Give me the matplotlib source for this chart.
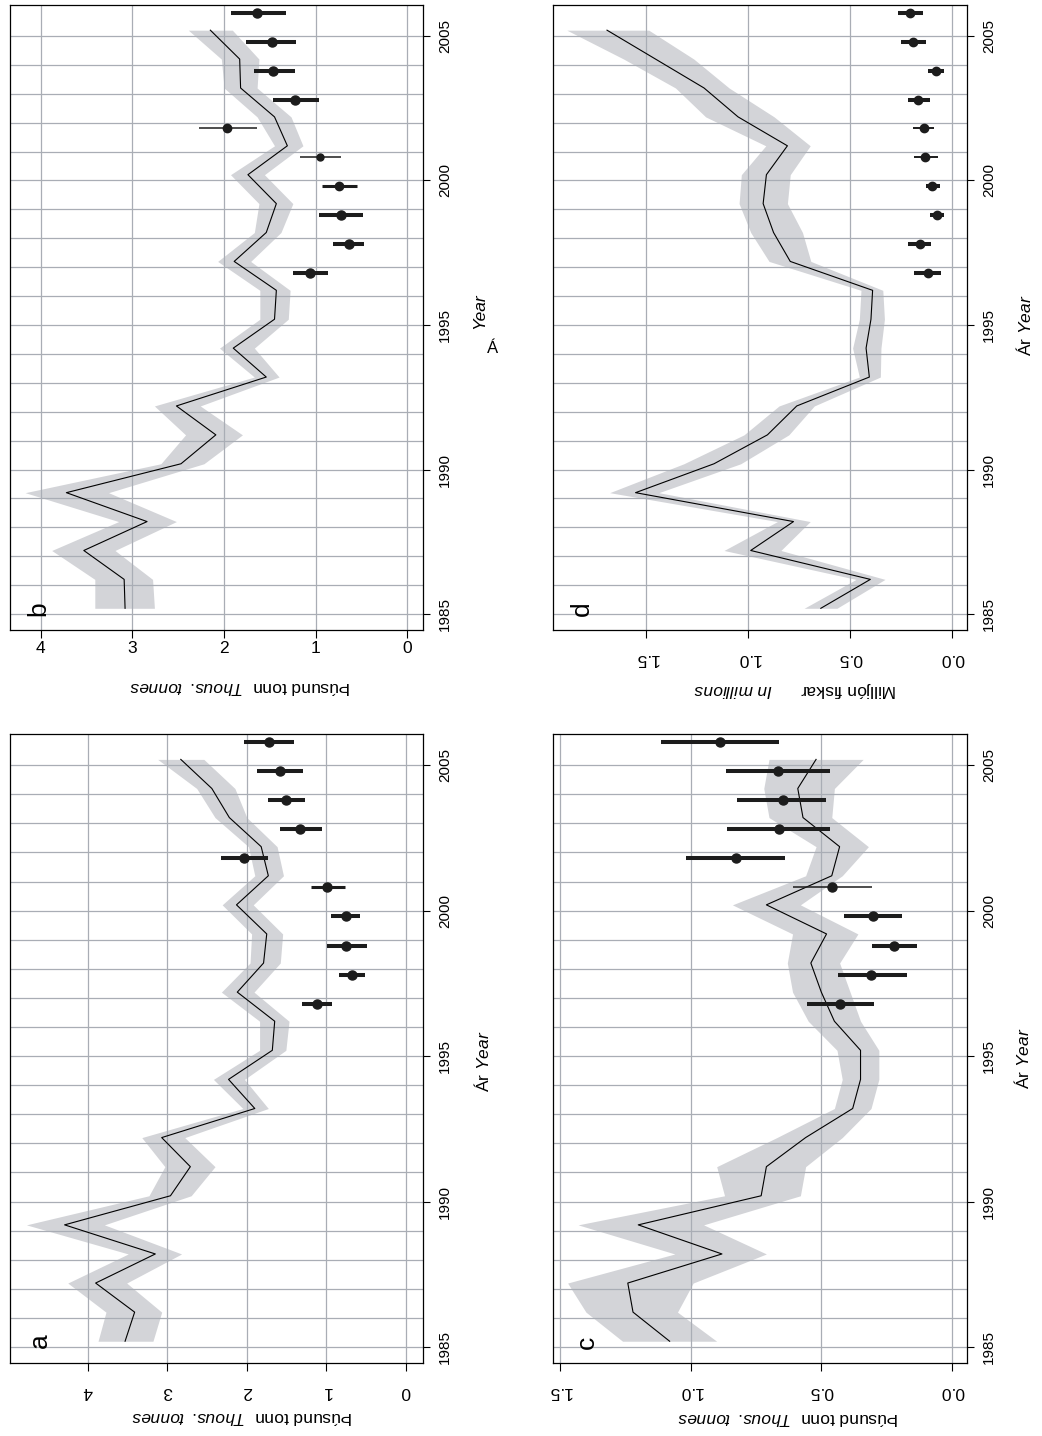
import numpy as np
import matplotlib
matplotlib.use("Agg")
import matplotlib.pyplot as plt

plt.rcParams['font.family'] = ['Liberation Sans', 'DejaVu Sans']
plt.rcParams['mathtext.fontset'] = 'custom'
plt.rcParams['mathtext.rm'] = 'Liberation Sans'
plt.rcParams['mathtext.it'] = 'Liberation Sans:italic'

years = np.arange(1985, 2006)
survey_years = np.arange(1997, 2007)

# a - model fit with band, survey index with error bars
a_fit = [3.53, 3.41, 3.90, 3.15, 4.29, 2.96, 2.71, 3.07, 1.90, 2.23, 1.68,
         1.65, 2.12, 1.79, 1.75, 2.13, 1.73, 1.82, 2.22, 2.44, 2.83]
a_hi = [3.87, 3.77, 4.25, 3.49, 4.77, 3.23, 3.03, 3.32, 2.05, 2.42, 1.84,
        1.84, 2.32, 1.96, 1.94, 2.31, 1.90, 1.98, 2.40, 2.63, 3.12]
a_lo = [3.18, 3.07, 3.51, 2.82, 3.79, 2.70, 2.40, 2.78, 1.73, 2.03, 1.51,
        1.47, 1.91, 1.58, 1.55, 1.92, 1.54, 1.62, 2.00, 2.15, 2.54]
a_obs = [1.12, 0.68, 0.75, 0.76, 0.99, 2.03, 1.33, 1.51, 1.58, 1.72]
a_obs_lo = [0.93, 0.52, 0.49, 0.58, 0.77, 1.73, 1.06, 1.27, 1.30, 1.41]
a_obs_hi = [1.31, 0.84, 0.99, 0.94, 1.20, 2.33, 1.58, 1.74, 1.87, 2.03]

# b
b_fit = [3.08, 3.09, 3.53, 2.84, 3.72, 2.47, 2.09, 2.52, 1.54, 1.90, 1.45,
         1.43, 1.89, 1.54, 1.43, 1.74, 1.31, 1.45, 1.82, 1.83, 2.15]
b_hi = [3.41, 3.41, 3.88, 3.15, 4.17, 2.69, 2.42, 2.76, 1.67, 2.05, 1.61,
        1.61, 2.07, 1.67, 1.62, 1.93, 1.45, 1.64, 2.00, 2.03, 2.39]
b_lo = [2.76, 2.78, 3.19, 2.52, 3.26, 2.22, 1.80, 2.26, 1.40, 1.67, 1.30,
        1.28, 1.71, 1.38, 1.25, 1.56, 1.14, 1.27, 1.64, 1.62, 1.91]
b_obs = [1.06, 0.64, 0.73, 0.745, 0.95, 1.97, 1.23, 1.47, 1.48, 1.64]
b_obs_lo = [0.87, 0.47, 0.49, 0.55, 0.72, 1.64, 0.97, 1.23, 1.22, 1.32]
b_obs_hi = [1.25, 0.81, 0.97, 0.93, 1.17, 2.27, 1.47, 1.67, 1.76, 1.93]

# c
c_fit = [1.08, 1.22, 1.24, 0.88, 1.20, 0.73, 0.71, 0.56, 0.38, 0.35, 0.35,
         0.45, 0.50, 0.54, 0.48, 0.71, 0.46, 0.43, 0.57, 0.59, 0.52]
c_hi = [1.26, 1.40, 1.47, 1.06, 1.43, 0.87, 0.90, 0.67, 0.45, 0.42, 0.44,
        0.55, 0.61, 0.63, 0.61, 0.84, 0.56, 0.52, 0.70, 0.72, 0.70]
c_lo = [0.90, 1.05, 0.99, 0.71, 0.95, 0.58, 0.56, 0.42, 0.31, 0.28, 0.28,
        0.35, 0.39, 0.43, 0.36, 0.58, 0.42, 0.32, 0.46, 0.45, 0.34]
c_obs = [0.427, 0.309, 0.221, 0.304, 0.458, 0.827, 0.663, 0.646, 0.665, 0.887]
c_obs_lo = [0.300, 0.173, 0.133, 0.191, 0.308, 0.637, 0.468, 0.481, 0.468, 0.663]
c_obs_hi = [0.555, 0.435, 0.308, 0.415, 0.608, 1.018, 0.862, 0.821, 0.864, 1.112]

# d
d_fit = [0.643, 0.400, 0.987, 0.777, 1.552, 1.167, 0.905, 0.761, 0.405, 0.421, 0.397,
         0.389, 0.793, 0.875, 0.926, 0.910, 0.807, 1.049, 1.216, 1.454, 1.692]
d_hi = [0.725, 0.470, 1.118, 0.856, 1.679, 1.315, 1.020, 0.848, 0.454, 0.487, 0.454,
        0.446, 0.897, 0.987, 1.044, 1.033, 0.913, 1.208, 1.356, 1.610, 1.889]
d_lo = [0.564, 0.328, 0.839, 0.695, 1.438, 1.036, 0.800, 0.675, 0.351, 0.348, 0.331,
        0.339, 0.692, 0.733, 0.807, 0.793, 0.695, 0.872, 1.093, 1.266, 1.487]
d_obs = [0.118, 0.156, 0.074, 0.098, 0.131, 0.139, 0.164, 0.079, 0.189, 0.205]
d_obs_lo = [0.052, 0.102, 0.038, 0.057, 0.069, 0.087, 0.107, 0.038, 0.126, 0.143]
d_obs_hi = [0.184, 0.216, 0.107, 0.126, 0.185, 0.189, 0.216, 0.115, 0.249, 0.262]

ticks_tonnes = [0, 1, 2, 3, 4]
ticks_tonnes_lab = ['0', '1', '2', '3', '4']
ticks_half = [0.0, 0.5, 1.0, 1.5]
ticks_half_lab = ['0.0', '0.5', '1.0', '1.5']
year_ticks = [1985, 1990, 1995, 2000, 2005]

lab_tonn = u'Þúsund tonn  $\\it{Thous.\\ tonnes}$'
lab_fisk = u'Milljón fiskar      $\\it{In\\ millions}$'
lab_year = u'Ár $\\it{Year}$'

BAND = '#d3d4d8'
GRID = '#a9adb5'
INK = '#1c1c1c'

fig = plt.figure(figsize=(10.42, 14.36), dpi=100)

# axes boxes (rotated page: value runs right-to-left, years run upward)
ax_b = fig.add_axes([0.0096, 0.5613, 0.3964, 0.4352])
ax_d = fig.add_axes([0.5307, 0.5613, 0.3973, 0.4352])
ax_a = fig.add_axes([0.0096, 0.0508, 0.3964, 0.4380])
ax_c = fig.add_axes([0.5307, 0.0508, 0.3973, 0.4380])


def panel(ax, fit, lo, hi, obs, obs_lo, obs_hi, bar_lw, dot_ms, xlim, xt, xtl,
          tick_rot, tick_pad, letter, letter_xy, vlabel, vlabel_xy, ylab_xy):
    t_fit = years + 0.2
    t_obs = survey_years - 0.2
    ax.fill_betweenx(t_fit, lo, hi, color=BAND, lw=0, zorder=1)
    ax.plot(fit, t_fit, color='black', lw=0.8, zorder=2)
    for t, v, l, h, w, m in zip(t_obs, obs, obs_lo, obs_hi, bar_lw, dot_ms):
        ax.plot([l, h], [t, t], color=INK, lw=w, solid_capstyle='butt', zorder=3)
        ax.plot(v, t, 'o', color=INK, ms=m, mec=INK, zorder=4)

    ax.set_xlim(*xlim)
    ax.set_ylim(1984.45, 2006.07)
    ax.set_xticks(xt)
    ax.set_xticklabels(xtl)
    ax.set_yticks(year_ticks)
    ax.set_yticks(years, minor=True)
    ax.yaxis.tick_right()
    ax.set_axisbelow('line')
    ax.grid(axis='x', color=GRID, lw=0.9)
    ax.grid(axis='y', which='both', color=GRID, lw=0.9)
    ax.tick_params(axis='x', direction='out', length=6, width=0.8,
                   labelsize=12.5, labelrotation=tick_rot, pad=tick_pad)
    ax.tick_params(axis='y', which='major', direction='out', length=5, width=0.8,
                   labelsize=11, labelrotation=90, pad=6)
    ax.tick_params(axis='y', which='minor', length=0)
    for lab in ax.get_yticklabels():
        lab.set_va('center')
    for s in ax.spines.values():
        s.set_linewidth(0.9)

    ax.text(letter_xy[0], letter_xy[1], letter, transform=ax.transAxes,
            rotation=90, fontsize=19, ha='center', va='center')
    ax.text(vlabel_xy[0], vlabel_xy[1], vlabel, transform=ax.transAxes,
            rotation=180, fontsize=12.5, ha='center', va='center')
    if ylab_xy is not None:
        ax.text(ylab_xy[0], ylab_xy[1], lab_year, transform=ax.transAxes,
                rotation=90, fontsize=12.5, ha='center', va='center')


thick, thin = 2.9, 1.1
panel(ax_a, a_fit, a_lo, a_hi, a_obs, a_obs_lo, a_obs_hi,
      [thick, thick, thick, thick, 2.2, thick, thick, thick, thick, thick],
      [6.5] * 10,
      (4.976, -0.214), ticks_tonnes, ticks_tonnes_lab, 180, 9,
      'a', (0.073, 0.035), lab_tonn, (0.562, -0.086), (1.143, 0.48))

panel(ax_b, b_fit, b_lo, b_hi, b_obs, b_obs_lo, b_obs_hi,
      [thick, thick, thick, 2.2, thin, thin, thick, thick, thick, thick],
      [6.5, 6.5, 6.5, 6.0, 5.0, 6.0, 6.5, 6.5, 6.5, 6.5],
      (4.335, -0.17), ticks_tonnes, ticks_tonnes_lab, 0, 2,
      'b', (0.068, 0.034), lab_tonn, (0.557, -0.091), None)
# the year caption of panel b is split in two pieces
ax_b.text(1.138, 0.51, 'Year', transform=ax_b.transAxes, rotation=90,
          fontsize=12.5, style='italic', ha='center', va='center')
ax_b.text(1.169, 0.45, u'Á', transform=ax_b.transAxes, rotation=0,
          fontsize=12, ha='center', va='center')

panel(ax_c, c_fit, c_lo, c_hi, c_obs, c_obs_lo, c_obs_hi,
      [thick, thick, thick, thick, thin, thick, thick, thick, thick, thick],
      [6.5] * 10,
      (1.526, -0.057), ticks_half, ticks_half_lab, 180, 9,
      'c', (0.082, 0.033), lab_tonn, (0.568, -0.087), (1.135, 0.485))

panel(ax_d, d_fit, d_lo, d_hi, d_obs, d_obs_lo, d_obs_hi,
      [thick, thick, thick, thick, 1.4, 1.4, thick, thick, thick, thick],
      [6.0] * 10,
      (1.957, -0.074), ticks_half, ticks_half_lab, 180, 9,
      'd', (0.070, 0.034), lab_fisk, (0.585, -0.096), (1.138, 0.488))

fig.savefig('out.png', dpi=100)
